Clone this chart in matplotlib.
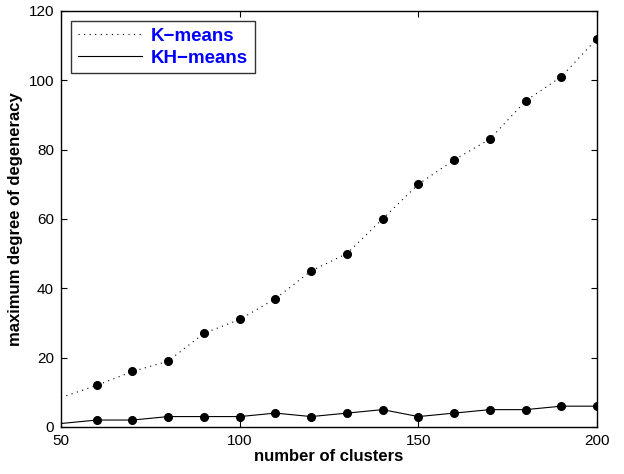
import numpy as np
import matplotlib
matplotlib.use('Agg')
import matplotlib.pyplot as plt

plt.rcParams['font.family'] = ['Liberation Sans', 'DejaVu Sans']

# number of clusters
clusters = [50, 60, 70, 80, 90, 100, 110, 120, 130, 140, 150, 160, 170, 180, 190, 200]
# maximum degree of degeneracy
kmeans = [8.5, 12, 16, 19, 27, 31, 37, 45, 50, 60, 70, 77, 83, 94, 101, 112]
khmeans = [1, 2, 2, 3, 3, 3, 4, 3, 4, 5, 3, 4, 5, 5, 6, 6]

fig = plt.figure(figsize=(6.24, 4.74), dpi=100)
ax = fig.add_axes([0.0978, 0.0992, 0.859, 0.878])

marks = list(range(1, len(clusters)))
ax.plot(clusters, kmeans, color='black', linestyle=(0, (1, 4)), linewidth=0.8,
        marker='o', markersize=5.5, markevery=marks, label='K\u2212means')
ax.plot(clusters, khmeans, color='black', linestyle='-', linewidth=0.8,
        marker='o', markersize=5.5, markevery=marks, label='KH\u2212means')

ax.set_xlim(50, 200)
ax.set_ylim(0, 120)
ax.set_xticks([50, 100, 150, 200])
ax.set_yticks([0, 20, 40, 60, 80, 100, 120])
ax.tick_params(direction='in', top=True, right=True, labelsize=11, length=4, pad=5)
for s in ax.spines.values():
    s.set_linewidth(1.0)

ax.set_xlabel('number of clusters', fontsize=12, fontweight='bold', labelpad=1)
ax.set_ylabel('maximum degree of degeneracy', fontsize=12, fontweight='bold', labelpad=4)

leg = ax.legend(loc='upper left', fontsize=13.5, frameon=True, fancybox=False,
                edgecolor='black', borderaxespad=0.55, handlelength=3.4,
                borderpad=0.35, labelspacing=0.25, handletextpad=0.5)
leg.get_frame().set_linewidth(1.0)
for t in leg.get_texts():
    t.set_color('blue')
    t.set_fontweight('bold')
for h in leg.get_lines():
    h.set_marker('')

fig.savefig('out.png', dpi=100)
